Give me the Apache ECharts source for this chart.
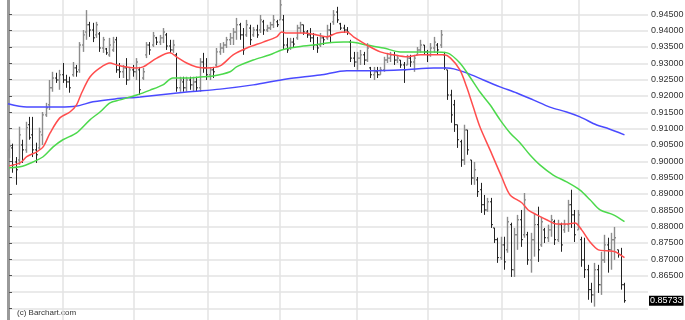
<!DOCTYPE html>
<html><head><meta charset="utf-8">
<script src="https://cdn.jsdelivr.net/npm/echarts@6/dist/echarts.min.js"></script>
<style>html,body{margin:0;padding:0;background:#fff}#c{width:685px;height:320px}</style>
</head><body><div id="c"></div>
<script>
// ---- OHLC daily bars (price) ----
const opens=[.9035,.9041,.8998,.9004,.9050,.9035,.9112,.9081,.9035,.9041,
.9081,.9142,.9173,.9225,.9255,.9249,.9265,.9249,.9243,.9265,
.9286,.9280,.9356,.9396,.9418,.9402,.9387,.9390,.9347,.9344,
.9326,.9341,.9372,.9280,.9274,.9286,.9249,.9280,.9274,.9280,
.9255,.9326,.9356,.9356,.9378,.9365,.9378,.9387,.9353,.9341,
.9326,.9225,.9243,.9225,.9249,.9234,.9243,.9225,.9304,.9286,
.9265,.9280,.9295,.9335,.9347,.9356,.9372,.9378,.9396,.9418,
.9387,.9387,.9408,.9387,.9402,.9402,.9427,.9402,.9408,.9418,
.9427,.9433,.9433,.9356,.9347,.9365,.9378,.9408,.9418,.9396,
.9387,.9378,.9356,.9356,.9378,.9378,.9402,.9427,.9457,.9421,
.9408,.9402,.9365,.9316,.9304,.9316,.9326,.9310,.9286,.9265,
.9274,.9265,.9280,.9310,.9316,.9326,.9310,.9310,.9295,.9295,
.9316,.9304,.9326,.9341,.9356,.9335,.9326,.9347,.9356,.9356,
.9326,.9280,.9203,.9173,.9112,.9060,.9004,.9096,.9004,.8949,
.8943,.8913,.8867,.8851,.8876,.8796,.8760,.8705,.8744,.8729,
.8806,.8668,.8775,.8821,.8775,.8775,.8698,.8760,.8806,.8744,
.8790,.8766,.8790,.8815,.8760,.8806,.8790,.8806,.8867,.8836,
.8790,.8760,.8698,.8668,.8607,.8591,.8668,.8622,.8698,.8744,
.8729,.8760,.8729,.8714,.8622];
const highs=[.9066,.9054,.9013,.9106,.9066,.9121,.9136,.9136,.9057,.9103,
.9151,.9179,.9249,.9274,.9271,.9280,.9301,.9265,.9259,.9304,
.9295,.9365,.9402,.9463,.9427,.9424,.9427,.9396,.9381,.9347,
.9378,.9381,.9381,.9301,.9295,.9316,.9289,.9295,.9316,.9289,
.9286,.9365,.9365,.9396,.9381,.9387,.9408,.9393,.9372,.9372,
.9332,.9259,.9259,.9259,.9259,.9259,.9259,.9316,.9332,.9316,
.9289,.9289,.9347,.9362,.9365,.9381,.9393,.9408,.9439,.9424,
.9408,.9433,.9418,.9411,.9418,.9448,.9433,.9418,.9427,.9448,
.9433,.9500,.9448,.9378,.9378,.9378,.9418,.9427,.9418,.9402,
.9408,.9393,.9381,.9393,.9381,.9418,.9424,.9463,.9473,.9424,
.9418,.9411,.9372,.9335,.9335,.9341,.9335,.9362,.9289,.9289,
.9289,.9289,.9320,.9332,.9335,.9335,.9326,.9310,.9304,.9326,
.9326,.9326,.9350,.9372,.9356,.9341,.9362,.9381,.9362,.9402,
.9335,.9280,.9219,.9188,.9112,.9066,.9112,.9096,.9004,.8998,
.8952,.8934,.8897,.8888,.8888,.8796,.8766,.8769,.8769,.8830,
.8812,.8796,.8836,.8851,.8903,.8784,.8781,.8842,.8861,.8830,
.8796,.8806,.8836,.8821,.8821,.8812,.8821,.8882,.8913,.8851,
.8851,.8769,.8766,.8683,.8628,.8689,.8683,.8723,.8775,.8766,
.8781,.8799,.8729,.8735,.8628];
const lows=[.9010,.8965,.8928,.8989,.8995,.9026,.9066,.9013,.8995,.9035,
.9050,.9136,.9157,.9213,.9240,.9219,.9240,.9225,.9210,.9259,
.9259,.9271,.9335,.9372,.9381,.9365,.9378,.9335,.9332,.9326,
.9320,.9335,.9271,.9255,.9255,.9234,.9249,.9259,.9249,.9203,
.9249,.9316,.9326,.9350,.9356,.9356,.9362,.9341,.9332,.9332,
.9213,.9213,.9213,.9213,.9219,.9213,.9213,.9213,.9271,.9249,
.9249,.9255,.9289,.9326,.9332,.9347,.9356,.9356,.9372,.9372,
.9326,.9381,.9356,.9381,.9378,.9393,.9387,.9396,.9402,.9408,
.9411,.9433,.9341,.9332,.9341,.9350,.9372,.9393,.9387,.9378,
.9365,.9341,.9332,.9350,.9356,.9372,.9362,.9418,.9424,.9402,
.9393,.9387,.9304,.9289,.9280,.9295,.9295,.9304,.9255,.9249,
.9255,.9265,.9274,.9301,.9304,.9295,.9301,.9286,.9240,.9295,
.9289,.9274,.9326,.9332,.9326,.9304,.9320,.9332,.9326,.9347,
.9280,.9188,.9118,.9090,.9041,.8983,.8989,.9020,.8928,.8928,
.8891,.8842,.8836,.8845,.8796,.8750,.8689,.8698,.8668,.8720,
.8646,.8646,.8729,.8738,.8766,.8683,.8659,.8708,.8692,.8738,
.8750,.8753,.8769,.8744,.8753,.8723,.8781,.8784,.8796,.8753,
.8790,.8677,.8643,.8576,.8567,.8555,.8597,.8591,.8689,.8659,
.8668,.8698,.8705,.8607,.8567];
const closes=[.9047,.8989,.8974,.9081,.9035,.9103,.9072,.9035,.9020,.9090,
.9142,.9164,.9225,.9255,.9249,.9265,.9249,.9243,.9225,.9286,
.9274,.9356,.9387,.9418,.9402,.9378,.9418,.9347,.9372,.9332,
.9356,.9365,.9280,.9274,.9286,.9249,.9280,.9274,.9304,.9219,
.9274,.9356,.9341,.9384,.9365,.9378,.9396,.9353,.9341,.9356,
.9225,.9249,.9225,.9249,.9234,.9243,.9225,.9304,.9286,.9265,
.9280,.9274,.9335,.9347,.9356,.9372,.9378,.9396,.9418,.9387,
.9341,.9418,.9372,.9402,.9387,.9433,.9402,.9408,.9418,.9433,
.9418,.9479,.9356,.9341,.9365,.9359,.9408,.9418,.9396,.9387,
.9378,.9356,.9347,.9378,.9372,.9402,.9387,.9448,.9433,.9408,
.9402,.9396,.9316,.9304,.9316,.9326,.9310,.9347,.9265,.9274,
.9265,.9280,.9310,.9316,.9326,.9310,.9316,.9295,.9280,.9316,
.9304,.9316,.9341,.9356,.9335,.9326,.9347,.9365,.9341,.9387,
.9286,.9203,.9142,.9112,.9066,.9004,.9096,.9035,.8949,.8974,
.8907,.8867,.8851,.8876,.8806,.8760,.8705,.8744,.8692,.8815,
.8668,.8775,.8821,.8760,.8882,.8698,.8760,.8806,.8729,.8815,
.8766,.8790,.8821,.8760,.8806,.8744,.8806,.8867,.8836,.8775,
.8836,.8698,.8668,.8607,.8591,.8668,.8622,.8698,.8744,.8729,
.8760,.8766,.8714,.8622,.85733];

// ---- moving averages (bar index, price) ----
const redIdx=[0,3.3,5.3,8.3,10.2,12.3,15.2,18.2,20.2,21.7,24.2,27.2,30.2,32.2,35.2,38.2,40.1,44.2,48.1,50.1,53.1,56.1,59.1,63.1,67,71.1,76,80,81.5,83,88,92,95,98,101,103,107,111,115,119,123,127,130,132,134.8,136.8,138.8,140.8,143.8,147.3,149.8,153.3,155.2,157.8,160.7,163.7,166.7,169.2,171.2,173.7,176.2,178.7,181.2,182.7,184];
const redVal=[.8986,.8995,.9014,.9029,.9044,.9087,.9133,.9151,.9173,.9209,.9258,.9286,.9301,.9295,.9289,.9286,.9289,.9316,.9332,.9320,.9301,.9289,.9286,.9292,.9326,.9347,.9365,.9381,.9396,.9393,.9393,.9387,.9381,.9393,.9396,.9381,.9356,.9335,.9326,.9320,.9326,.9326,.9326,.9316,.9280,.9228,.9166,.9105,.9035,.8952,.8897,.8873,.8851,.8836,.8821,.8808,.8808,.8811,.8790,.8753,.8729,.8726,.8723,.8714,.8705];
const greenIdx=[0,3.3,7.2,10.2,13.2,16.1,20.2,24.2,27.2,30.2,33.2,38.2,42.2,46,49,53.1,57.1,61,66.1,68,73,78,81.5,86,91,95,100,102,107,112,117,121,127,131,134.8,137.8,140.8,143.8,146.8,149.8,152.8,155.7,158.7,162.7,166.7,170.7,173.7,176.7,180.7,184];
const greenVal=[.8980,.8983,.8998,.9014,.9044,.9066,.9087,.9127,.9151,.9179,.9188,.9203,.9218,.9234,.9255,.9255,.9258,.9261,.9274,.9289,.9310,.9326,.9341,.9350,.9356,.9362,.9365,.9365,.9356,.9347,.9335,.9335,.9335,.9332,.9301,.9258,.9212,.9173,.9127,.9087,.9056,.9020,.8989,.8958,.8937,.8912,.8882,.8851,.8836,.8815];
const blueIdx=[-0.3,5.3,11.3,15.2,20.2,25.1,31.7,39.2,53.1,63.1,73,83,93,101,108,118,127,131,133,137,141.8,146.8,151.8,156.7,161.7,166.7,170.7,175.7,178.7,184];
const blueVal=[.9176,.9166,.9166,.9166,.9169,.9182,.9191,.9197,.9212,.9221,.9234,.9252,.9264,.9277,.9277,.9280,.9286,.9286,.9283,.9270,.9249,.9228,.9209,.9188,.9166,.9151,.9136,.9111,.9102,.9081];

// month separators (bar-index positions)
const monthLines=[16.1,37.4,59.5,81,104,125.3,147.4,170.4];
const yMin=0.85, yMax=0.95, yStep=0.005;
const copyright='(c) Barchart.com';

const lastClose=closes[closes.length-1];
const bars=opens.map((o,i)=>[i,o,highs[i],lows[i],closes[i]]);
const pair=(a,b)=>a.map((v,i)=>[v,b[i]]);
const FONT='"Liberation Sans", Arial, sans-serif';

const chart=echarts.init(document.getElementById('c'),null,{renderer:'canvas'});
chart.setOption({
  animation:false,
  backgroundColor:'#fff',
  grid:{left:8,right:37,top:-2,bottom:-4.6,outerBoundsMode:'none',containLabel:false},
  xAxis:{type:'value',min:-0.3,max:191.03,show:false},
  yAxis:[{
    type:'value',position:'right',min:yMin,max:yMax,interval:yStep,
    axisLine:{show:true,lineStyle:{color:'#999',width:1}},
    axisTick:{show:true,length:3,lineStyle:{color:'#555'}},
    axisLabel:{margin:3,fontSize:9,fontFamily:FONT,color:'#333',
      showMinLabel:true,showMaxLabel:true,
      formatter:v=>Math.abs(v-lastClose)<0.003?'':v.toFixed(5)},
    splitLine:{show:true,lineStyle:{color:'#e3e3e3',width:1.5}}
  },{
    type:'value',position:'left',min:yMin,max:yMax,
    axisLine:{show:true,lineStyle:{color:'#999',width:2}},
    axisTick:{show:false},axisLabel:{show:false},splitLine:{show:false}
  }],
  graphic:[{type:'text',left:17,top:309,style:{text:copyright,font:'8px '+FONT,fill:'#333'}}],
  series:[
    {type:'scatter',z:1,data:[],silent:true,
     markLine:{silent:true,symbol:'none',animation:false,label:{show:false},
       lineStyle:{color:'#e3e3e3',width:1.5,type:'solid'},emphasis:{disabled:true},
       data:monthLines.map(v=>({xAxis:v}))}},
    {type:'custom',z:5,data:bars,encode:{x:0,y:[1,2,3,4]},silent:true,
     renderItem:(params,api)=>{
       const i=api.value(0),o=api.value(1),h=api.value(2),l=api.value(3),c=api.value(4);
       const ph=api.coord([i,h]),pl=api.coord([i,l]),po=api.coord([i,o]),pc=api.coord([i,c]);
       const x=Math.round(ph[0])+0.5;
       const up=c>=o;
       const st={stroke:up?'#8c8c8c':'#222',lineWidth:up?1.4:1};
       return {type:'group',children:[
         {type:'line',shape:{x1:x,y1:ph[1],x2:x,y2:pl[1]},style:st},
         {type:'line',shape:{x1:x-1.5,y1:po[1],x2:x,y2:po[1]},style:st},
         {type:'line',shape:{x1:x,y1:pc[1],x2:x+1.5,y2:pc[1]},style:st}]};
     }},
    {type:'line',z:6,data:pair(blueIdx,blueVal),showSymbol:false,smooth:0.3,silent:true,
     lineStyle:{color:'#4a4aff',width:1.5}},
    {type:'line',z:7,data:pair(greenIdx,greenVal),showSymbol:false,smooth:0.3,silent:true,
     lineStyle:{color:'#4cd94c',width:1.5}},
    {type:'line',z:8,data:pair(redIdx,redVal),showSymbol:false,smooth:0.3,silent:true,
     lineStyle:{color:'#ff4d4d',width:1.5}},
    {type:'custom',z:10,clip:false,silent:true,data:[[closes.length-1,lastClose]],
     renderItem:(params,api)=>{
       const p=api.coord([api.value(0),api.value(1)]);
       const cs=params.coordSys;
       return {type:'text',x:cs.x+cs.width+1,y:p[1],
         style:{text:api.value(1).toFixed(5),fill:'#fff',backgroundColor:'#000',
           padding:[1,1,0,1],font:'9px '+FONT,verticalAlign:'middle',align:'left'}};
     }}
  ]
});
</script></body></html>
